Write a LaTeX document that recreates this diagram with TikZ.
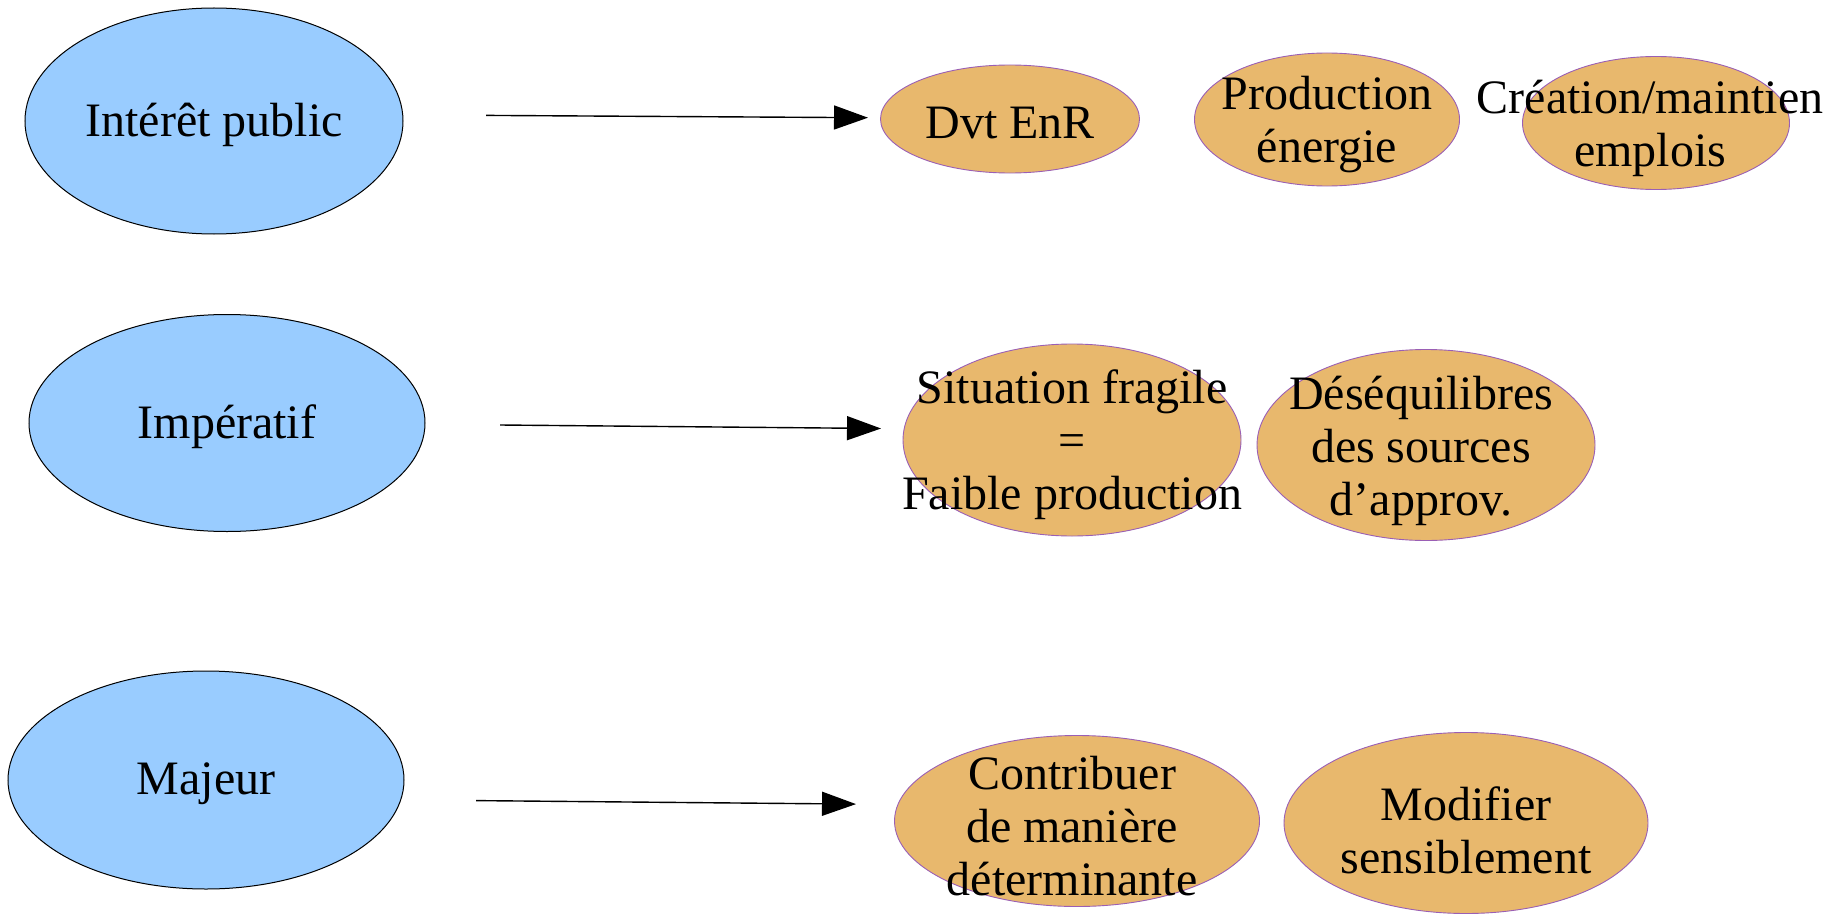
\documentclass[tikz,border=0pt]{standalone}
\usepackage{fontspec}
\setmainfont{Liberation Serif}
\usetikzlibrary{shapes.geometric,arrows.meta}
\definecolor{bluefill}{HTML}{99CCFF}
\definecolor{orangefill}{HTML}{E8B86D}
\definecolor{orangeline}{HTML}{9A5FB5}
\tikzset{
  bluebox/.style={ellipse, draw=black, line width=0.5pt, fill=bluefill, inner sep=0pt},
  orangebox/.style={ellipse, draw=orangeline, line width=0.45pt, fill=orangefill, inner sep=0pt},
  lbl/.style={align=center, inner sep=0pt, yshift=-2pt, font=\fontsize{24}{26.5}\selectfont},
  arr/.style={line width=0.7pt, -{Triangle[length=17pt,width=12pt]}}
}
\begin{document}
\begin{tikzpicture}[x=0.5pt,y=-0.5pt]
\useasboundingbox (0,0) rectangle (1846,915);
% row 1
\node[bluebox, minimum width=378pt*0.5, minimum height=226pt*0.5] (b1) at (214,121) {};
\node[lbl] (t1) at (b1.center) {Intérêt public};
\node[orangebox, minimum width=259pt*0.5, minimum height=108pt*0.5] (o11) at (1010,119) {};
\node[lbl] (t11) at (o11.center) {Dvt EnR};
\node[orangebox, minimum width=265pt*0.5, minimum height=133pt*0.5] (o12) at (1327,119.5) {};
\node[lbl] (t12) at (1327,121) {Production\\énergie};
\node[orangebox, minimum width=267pt*0.5, minimum height=133pt*0.5] (o13) at (1656,123) {};
\node[lbl] (t13) at (1650,124) {Création/maintien\\emplois};
\coordinate (a1s) at (486,115.4);
\coordinate (a1e) at (868,117.7);
\draw[arr] (a1s) -- (a1e);
% row 2
\node[bluebox, minimum width=396pt*0.5, minimum height=217pt*0.5] (b2) at (227,423) {};
\node[lbl] (t2) at (b2.center) {Impératif};
\node[orangebox, minimum width=338pt*0.5, minimum height=192pt*0.5] (o21) at (1072,440) {};
\node[lbl] (t21) at (1072,441) {Situation fragile\\=\\Faible production};
\node[orangebox, minimum width=338pt*0.5, minimum height=191pt*0.5] (o22) at (1426,445) {};
\node[lbl] (t22) at (1421,447) {Déséquilibres\\des sources\\d’approv.};
\coordinate (a2s) at (500,425);
\coordinate (a2e) at (881,428.5);
\draw[arr] (a2s) -- (a2e);
% row 3
\node[bluebox, minimum width=396pt*0.5, minimum height=218pt*0.5] (b3) at (206,780) {};
\node[lbl] (t3) at (b3.center) {Majeur};
\node[orangebox, minimum width=365pt*0.5, minimum height=171pt*0.5] (o31) at (1077,821) {};
\node[lbl] (t31) at (1072,822) {Contribuer\\de manière\\déterminante};
\node[orangebox, minimum width=364pt*0.5, minimum height=181pt*0.5] (o32) at (1466,823) {};
\node[lbl] (t32) at (1466,826) {Modifier\\sensiblement};
\coordinate (a3s) at (476,800.6);
\coordinate (a3e) at (856,804.1);
\draw[arr] (a3s) -- (a3e);
\end{tikzpicture}
\end{document}
